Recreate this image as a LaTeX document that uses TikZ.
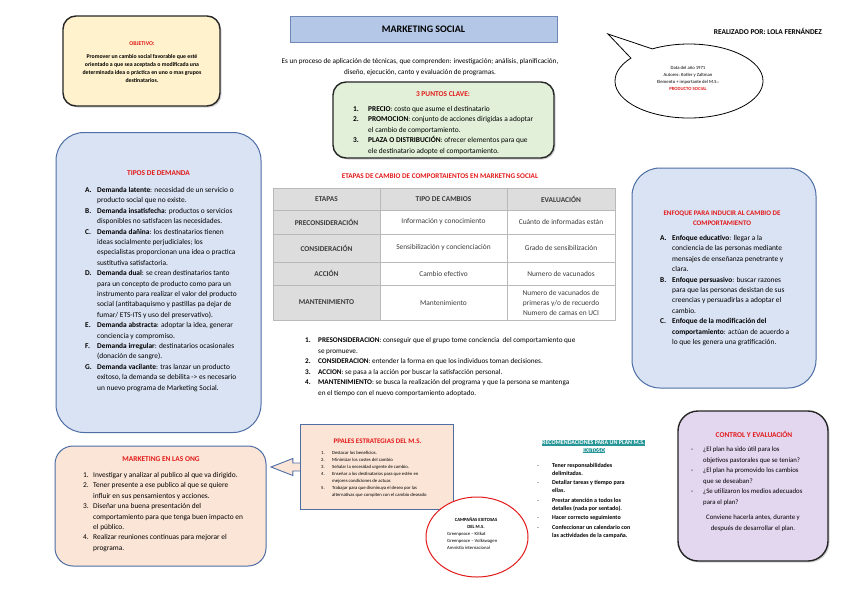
\documentclass[tikz,border=0pt]{standalone}
\usepackage{fontspec}
\setmainfont{Carlito}
\usetikzlibrary{shapes.geometric,shapes.callouts,shadows}

\definecolor{rojotit}{RGB}{226,26,26}
\definecolor{amarillo}{RGB}{255,242,204}
\definecolor{azultit}{RGB}{180,199,231}
\definecolor{bordetit}{RGB}{110,135,180}
\definecolor{verdeclaro}{RGB}{226,240,217}
\definecolor{azulclaro}{RGB}{218,227,243}
\definecolor{azulborde}{RGB}{78,110,165}
\definecolor{salmon}{RGB}{251,229,214}
\definecolor{lila}{RGB}{227,214,239}
\definecolor{turquesa}{RGB}{38,150,150}
\definecolor{grisceld}{RGB}{221,221,221}
\definecolor{lineaceld}{RGB}{185,185,185}
\definecolor{textoceld}{RGB}{60,60,60}

\newcommand{\fcuerpo}{\fontsize{7.4}{10.4}\selectfont}
\newcommand{\fmedio}{\fontsize{6.8}{10.6}\selectfont}
\newcommand{\fcelda}{\fontsize{7.4}{10}\selectfont}
\newcommand{\fpeque}{\fontsize{5.8}{8.2}\selectfont}
\newcommand{\fmini}{\fontsize{4.7}{7}\selectfont}

\begin{document}
\begin{tikzpicture}[x=1pt, y=-1pt,
  cajanegra/.style={draw=black!85, line width=1.4pt, rounded corners=13pt,
    drop shadow={opacity=0.35, shadow xshift=1.5pt, shadow yshift=-1.5pt}},
  cajaazul/.style={draw=azulborde, line width=1pt, rounded corners=28pt},
  titrojo/.style={font=\fcuerpo\bfseries, text=rojotit, inner sep=0pt},
  lista/.style={anchor=base west, inner sep=0pt},
  celda/.style={draw=lineaceld, fill=white, font=\fcelda, text=textoceld, align=center, inner sep=0pt},
  celdagris/.style={celda, fill=grisceld, font=\fcelda\bfseries}]

\fill[white] (0,0) rectangle (848,600);
\useasboundingbox (0,0) rectangle (848,600);

% objetivo
\node[cajanegra, fill=amarillo, minimum width=157pt, minimum height=90pt] (objetivo) at (141.5,61) {};
\node[titrojo, font=\fpeque\bfseries] (objtit) at (142,44) {OBJETIVO:};
\node[font=\fpeque\bfseries, align=center, inner sep=0pt] (objtxt) at (142,68.5) {Promover un cambio social favorable que esté\\orientado a que sea aceptada o modificada una\\determinada idea o práctica en uno o mas grupos\\destinatarios.};

% cabecera
\node[draw=bordetit, fill=azultit, line width=0.8pt, minimum width=267pt, minimum height=26pt] (titulo) at (423.5,29) {};
\node[font=\fontsize{10}{12}\selectfont\bfseries, inner sep=0pt] (tittxt) at (423.5,29.5) {MARKETING SOCIAL};
\node[font=\fontsize{7.4}{9}\selectfont\bfseries, anchor=east, inner sep=0pt] (autora) at (822,31.5) {REALIZADO POR: LOLA FERNÁNDEZ};
\node[font=\fontsize{7.2}{10.6}\selectfont, align=center, inner sep=0pt] (intro) at (420,67) {Es un proceso de aplicación de técnicas, que comprenden: investigación; análisis, planificación,\\diseño, ejecución, canto y evaluación de programas.};

% burbuja
\node[ellipse callout, draw=black, line width=0.8pt, fill=white, minimum width=148pt, minimum height=74pt,
  callout absolute pointer={(608,34)}, callout pointer arc=22] (burbuja) at (689,81) {};
\node[font=\fmini, align=center, inner sep=0pt] (burtxt) at (688,78.5) {Data del año 1971\\Autores: Kotler y Zaltman\\Elemento + importante del M.S.:\\\textcolor{rojotit}{\bfseries PRODUCTO SOCIAL}};

% 3 puntos clave
\node[cajanegra, fill=verdeclaro, minimum width=221pt, minimum height=76pt] (puntos) at (443.5,120) {};
\node[titrojo] (puntostit) at (443,94) {3 PUNTOS CLAVE:};
\node[lista, font=\fcuerpo] (puntoslista) at (353,111.5) {\begin{tabular}[t]{@{}p{15pt}@{}l@{}}
\textbf{1.} & \textbf{PRECIO}: costo que asume el destinatario\\
\textbf{2.} & \textbf{PROMOCION}: conjunto de acciones dirigidas a adoptar\\
 & el cambio de comportamiento.\\
\textbf{3.} & \textbf{PLAZA O DISTRIBUCIÓN}: ofrecer elementos para que\\
 & ele destinatario adopte el comportamiento.
\end{tabular}};

% tipos de demanda
\node[cajaazul, fill=azulclaro, minimum width=205pt, minimum height=300pt] (tipos) at (158.5,282.5) {};
\node[titrojo] (tipostit) at (158.5,173) {TIPOS DE DEMANDA};
\node[lista, font=\fcuerpo] (tiposlista) at (85,192.5) {\begin{tabular}[t]{@{}p{12pt}@{}l@{}}
\textbf{A.} & \textbf{Demanda latente}: necesidad de un servicio o\\
 & producto social que no existe.\\
\textbf{B.} & \textbf{Demanda insatisfecha}: productos o servicios\\
 & disponibles no satisfacen las necesidades.\\
\textbf{C.} & \textbf{Demanda dañina}: los destinatarios tienen\\
 & ideas socialmente perjudiciales; los\\
 & especialistas proporcionan una idea o practica\\
 & sustitutiva satisfactoria.\\
\textbf{D.} & \textbf{Demanda dual}: se crean destinatarios tanto\\
 & para un concepto de producto como para un\\
 & instrumento para realizar el valor del producto\\
 & social (antitabaquismo y pastillas pa dejar de\\
 & fumar/ ETS-ITS y uso del preservativo).\\
\textbf{E.} & \textbf{Demanda abstracta}: adoptar la idea, generar\\
 & conciencia y compromiso.\\
\textbf{F.} & \textbf{Demanda irregular}: destinatarios ocasionales\\
 & (donación de sangre).\\
\textbf{G.} & \textbf{Demanda vacilante}: tras lanzar un producto\\
 & exitoso, la demanda se debilita -> es necesario\\
 & un nuevo programa de Marketing Social.
\end{tabular}};

% tabla de etapas
\node[titrojo, font=\fontsize{7.2}{9}\selectfont\bfseries] (tablatit) at (440,176) {ETAPAS DE CAMBIO DE COMPORTAIENTOS EN MARKETNG SOCIAL};
\node[celdagris, minimum width=107pt, minimum height=22pt] (t01) at (326.5,199) {ETAPAS};
\node[celdagris, minimum width=127pt, minimum height=22pt] (t02) at (443.5,199) {TIPO DE CAMBIOS};
\node[celdagris, minimum width=108pt, minimum height=22pt] (t03) at (561,199) {EVALUACIÓN};
\node[celdagris, minimum width=107pt, minimum height=24pt] (t11) at (326.5,222) {PRECONSIDERACIÓN};
\node[celda, minimum width=127pt, minimum height=24pt] (t12) at (443.5,222) {Información y conocimiento};
\node[celda, minimum width=108pt, minimum height=24pt] (t13) at (561,222) {Cuánto de informadas están};
\node[celdagris, minimum width=107pt, minimum height=28pt] (t21) at (326.5,248) {CONSIDERACIÓN};
\node[celda, minimum width=127pt, minimum height=28pt] (t22) at (443.5,248) {Sensibilización y concienciación};
\node[celda, minimum width=108pt, minimum height=28pt] (t23) at (561,248) {Grado de sensibilización};
\node[celdagris, minimum width=107pt, minimum height=23pt] (t31) at (326.5,273.5) {ACCIÓN};
\node[celda, minimum width=127pt, minimum height=23pt] (t32) at (443.5,273.5) {Cambio efectivo};
\node[celda, minimum width=108pt, minimum height=23pt] (t33) at (561,273.5) {Numero de vacunados};
\node[celdagris, minimum width=107pt, minimum height=35pt] (t41) at (326.5,302.5) {MANTENIMIENTO};
\node[celda, minimum width=127pt, minimum height=35pt] (t42) at (443.5,302.5) {Mantenimiento};
\node[celda, minimum width=108pt, minimum height=35pt] (t43) at (561,302.5) {Numero de vacunados de\\primeras y/o de recuerdo\\Numero de camas en UCI};

% enfoque
\node[cajaazul, fill=azulclaro, minimum width=184pt, minimum height=220pt] (enfoque) at (724,278) {};
\node[titrojo, align=center, font=\fontsize{7}{10}\selectfont\bfseries] (enfoquetit) at (722,218) {ENFOQUE PARA INDUCIR AL CAMBIO DE\\COMPORTAMIENTO};
\node[lista, font=\fcuerpo] (enfoquelista) at (660,240.5) {\begin{tabular}[t]{@{}p{12pt}@{}l@{}}
\textbf{A.} & \textbf{Enfoque educativo}: llegar a la\\
 & conciencia de las personas mediante\\
 & mensajes de enseñanza penetrante y\\
 & clara.\\
\textbf{B.} & \textbf{Enfoque persuasivo}: buscar razones\\
 & para que las personas desistan de sus\\
 & creencias y persuadirlas a adoptar el\\
 & cambio.\\
\textbf{C.} & \textbf{Enfoque de la modificación del}\\
 & \textbf{comportamiento}: actúan de acuerdo a\\
 & lo que les genera una gratificación.
\end{tabular}};

% etapas explicadas
\node[lista, font=\fontsize{7.2}{10.6}\selectfont] (etapaslista) at (305,342.5) {\begin{tabular}[t]{@{}p{13pt}@{}l@{}}
\textbf{1.} & \textbf{PRESONSIDERACION}: conseguir que el grupo tome conciencia\ \ del comportamiento que\\
 & se promueve.\\
\textbf{2.} & \textbf{CONSIDERACION}: entender la forma en que los individuos toman decisiones.\\
\textbf{3.} & \textbf{ACCION}: se pasa a la acción por buscar la satisfacción personal.\\
\textbf{4.} & \textbf{MANTENIMIENTO}: se busca la realización del programa y que la persona se mantenga\\
 & en el tiempo con el nuevo comportamiento adoptado.
\end{tabular}};

% marketing en las ong
\node[cajaazul, rounded corners=18pt, fill=salmon, minimum width=211pt, minimum height=120pt] (ong) at (160.5,506) {};
\node[titrojo] (ongtit) at (161,459) {MARKETING EN LAS ONG};
\node[lista, font=\fcuerpo] (onglista) at (83,477.5) {\begin{tabular}[t]{@{}p{10pt}@{}l@{}}
1. & Investigar y analizar al publico al que va dirigido.\\
2. & Tener presente a ese publico al que se quiere\\
 & influir en sus pensamientos y acciones.\\
3. & Diseñar una buena presentación del\\
 & comportamiento para que tenga buen impacto en\\
 & el público.\\
4. & Realizar reuniones continuas para mejorar el\\
 & programa.
\end{tabular}};

% estrategias
\coordinate (punta) at (271,467);
\node[minimum width=152pt, minimum height=84pt] (ppales) at (377,467) {};
\draw[draw=azulborde, fill=salmon, line width=0.9pt, line join=miter]
  ([yshift=4pt]ppales.west) -- ++(-8pt,0) -- ++(0,4.5pt) -- (punta)
  -- ([xshift=-8pt,yshift=-8.5pt]ppales.west) -- ++(0,4.5pt) -- ([yshift=-4pt]ppales.west);
\draw[draw=azulborde, fill=salmon, line width=0.9pt] (ppales.north west) rectangle (ppales.south east);
\node[titrojo, font=\fontsize{7}{9}\selectfont\bfseries] (ppalestit) at (377.5,441) {PPALES ESTRATEGIAS DEL M.S.};
\node[lista, font=\fmini] (ppaleslista) at (321,454.7) {\begin{tabular}[t]{@{}p{11pt}@{}l@{}}
1. & Destacar los beneficios.\\
2. & Minimizar los costes del cambio\\
3. & Señalar la necesidad urgente de cambio.\\
4. & Enseñar a los destinatarios para que estén en\\
 & mejores condiciones de actuar.\\
5. & Trabajar para que disminuya el deseo por las\\
 & alternativas que compiten con el cambio deseado
\end{tabular}};

% campañas
\node[ellipse, draw=rojotit, line width=1pt, fill=white, minimum width=102pt, minimum height=80pt] (campanas) at (477,537) {};
\node[font=\fmini\bfseries, align=center, inner sep=0pt] (campanastit) at (476,523.5) {CAMPAÑAS EXITOSAS\\DEL M.S.};
\node[lista, font=\fmini] (campanaslista) at (447,535) {\begin{tabular}[t]{@{}l@{}}
Greenpeace – Kitkat\\
Greenpeace – Volkswagen\\
Amnistía internacional
\end{tabular}};

% recomendaciones
\node[fill=turquesa, text=white, font=\fontsize{6}{8}\selectfont\bfseries, inner sep=0.6pt] (recotit) at (593.5,443) {RECOMENDACIONES PARA UN PLAN M.S.};
\node[fill=turquesa, text=white, font=\fontsize{6}{8}\selectfont\bfseries, inner sep=0.6pt] (recotit2) at (594,450.5) {EXITOSO};
\node[lista, font=\fontsize{6}{8}\selectfont] (recolista) at (537,467) {\begin{tabular}[t]{@{}p{15pt}@{}l@{}}
- & \textbf{Tener responsabilidades}\\
 & \textbf{delimitadas.}\\[1.5pt]
- & \textbf{Detallar tareas y tiempo para}\\
 & \textbf{ellas.}\\[1.5pt]
- & \textbf{Prestar atención a todos los}\\
 & \textbf{detalles (nada por sentado).}\\[1.5pt]
- & \textbf{Hacer correcto seguimiento}\\[1.5pt]
- & \textbf{Confeccionar un calendario con}\\
 & \textbf{las actividades de la campaña.}
\end{tabular}};

% control y evaluacion
\node[cajanegra, rounded corners=20pt, fill=lila, minimum width=150pt, minimum height=150pt] (control) at (753,486) {};
\node[titrojo] (controltit) at (754,434) {CONTROL Y EVALUACIÓN};
\node[lista, font=\fmedio] (controllista) at (691,451.5) {\begin{tabular}[t]{@{}p{12pt}@{}l@{}}
- & ¿El plan ha sido útil para los\\
 & objetivos pastorales que se tenían?\\
- & ¿El plan ha promovido los cambios\\
 & que se deseaban?\\
- & ¿Se utilizaron los medios adecuados\\
 & para el plan?
\end{tabular}};
\node[font=\fmedio, align=center, inner sep=0pt] (controlfin) at (753,523) {Conviene hacerla antes, durante y\\después de desarrollar el plan.};

\end{tikzpicture}
\end{document}
